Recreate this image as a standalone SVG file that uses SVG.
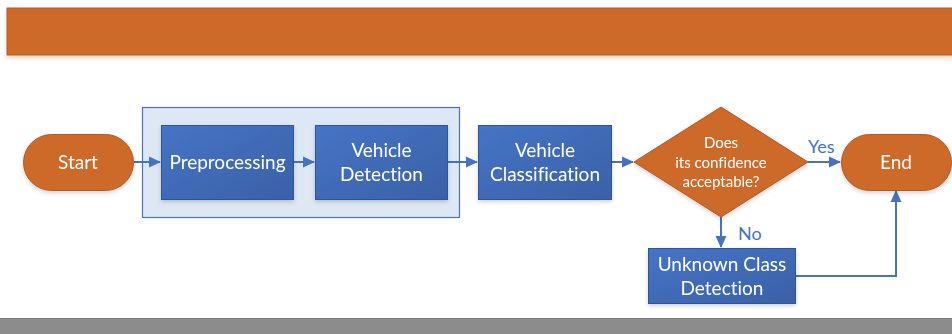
<svg xmlns="http://www.w3.org/2000/svg" width="952" height="334" viewBox="0 0 952 334">
<defs>
<style>
.orange{fill:#CD6A2B;stroke:#B35A22;stroke-width:1}
.blue{fill:url(#gb);stroke:#2F5597;stroke-width:1}
.txt{font-family:Lato,"Liberation Sans",sans-serif;fill:#FFFFFF;text-anchor:middle;font-variant-ligatures:none}
.big{font-size:19px}
.small{font-size:15px}
.lbl{font-family:Lato,"Liberation Sans",sans-serif;fill:#4472C4;font-size:18px}
.conn{fill:none;stroke:#4472C4;stroke-width:2}
</style>
<linearGradient id="gb" x1="0" y1="0" x2="1" y2="1">
<stop offset="0" stop-color="#4674C6"/>
<stop offset="1" stop-color="#3A61A7"/>
</linearGradient>
<filter id="sh" x="-10%" y="-10%" width="120%" height="130%">
<feDropShadow dx="0" dy="2" stdDeviation="2" flood-color="#000000" flood-opacity="0.18"/>
</filter>
<filter id="osh" x="-5%" y="-20%" width="110%" height="160%">
<feDropShadow dx="0" dy="3" stdDeviation="2" flood-color="#E8A070" flood-opacity="0.4"/>
</filter>
<marker id="ah" markerWidth="12" markerHeight="12" refX="11" refY="6" orient="auto" markerUnits="userSpaceOnUse">
<path d="M0,0.5 L12,6 L0,11.5 Z" fill="#4472C4"/>
</marker>
</defs>
<rect width="952" height="334" fill="#FFFFFF"/>
<g id="banner">
<rect x="7" y="8" width="950" height="47" fill="#CD6A2B" stroke="#B35A22" stroke-width="1" filter="url(#osh)"/>
</g>
<g id="footer">
<rect x="0" y="318" width="952" height="16" fill="#8C8C8C"/>
<line x1="0" y1="318.5" x2="952" y2="318.5" stroke="#7A7A7A" stroke-width="1"/>
</g>
<g id="group">
<rect x="142.5" y="107.5" width="317" height="110" fill="#DEE8F4" stroke="#4A72B8" stroke-width="1.2"/>
</g>
<g id="connectors">
<path class="conn" d="M134,162 H160" marker-end="url(#ah)"/>
<path class="conn" d="M294,162 H314" marker-end="url(#ah)"/>
<path class="conn" d="M448,162 H477" marker-end="url(#ah)"/>
<path class="conn" d="M612,162 H633" marker-end="url(#ah)"/>
<path class="conn" d="M808,162 H840" marker-end="url(#ah)"/>
<path class="conn" d="M721,217 V247" marker-end="url(#ah)"/>
<path class="conn" d="M796,276 H896 V191" marker-end="url(#ah)"/>
<text class="lbl" x="808" y="153">Yes</text>
<text class="lbl" x="738" y="240">No</text>
</g>
<g id="start" filter="url(#sh)">
<rect class="orange" x="23.5" y="134.5" width="110" height="56" rx="28" ry="28"/>
<text class="txt big" x="78" y="168.5">Start</text>
</g>
<g id="preprocessing" filter="url(#sh)">
<rect class="blue" x="161.5" y="125.5" width="132" height="74"/>
<text class="txt big" x="227.5" y="168.5">Preprocessing</text>
</g>
<g id="vehicle-detection" filter="url(#sh)">
<rect class="blue" x="315.5" y="125.5" width="132" height="74"/>
<text class="txt big" x="381.5" y="156.5">Vehicle</text>
<text class="txt big" x="381.5" y="180.5">Detection</text>
</g>
<g id="vehicle-classification" filter="url(#sh)">
<rect class="blue" x="478.5" y="125.5" width="133" height="74"/>
<text class="txt big" x="545" y="156.5">Vehicle</text>
<text class="txt big" x="545" y="180.5">Classification</text>
</g>
<g id="decision" filter="url(#sh)">
<polygon class="orange" points="721,107 808,162 721,217 634,162"/>
<text class="txt small" x="721" y="148">Does</text>
<text class="txt small" x="721" y="167.5">its confidence</text>
<text class="txt small" x="721" y="187">acceptable?</text>
</g>
<g id="end" filter="url(#sh)">
<rect class="orange" x="841.5" y="134.5" width="110" height="56" rx="28" ry="28"/>
<text class="txt big" x="896" y="168.5">End</text>
</g>
<g id="unknown-class-detection" filter="url(#sh)">
<rect class="blue" x="648.5" y="248.5" width="147" height="55"/>
<text class="txt big" x="722" y="270.5">Unknown Class</text>
<text class="txt big" x="722" y="294.5">Detection</text>
</g>
</svg>
